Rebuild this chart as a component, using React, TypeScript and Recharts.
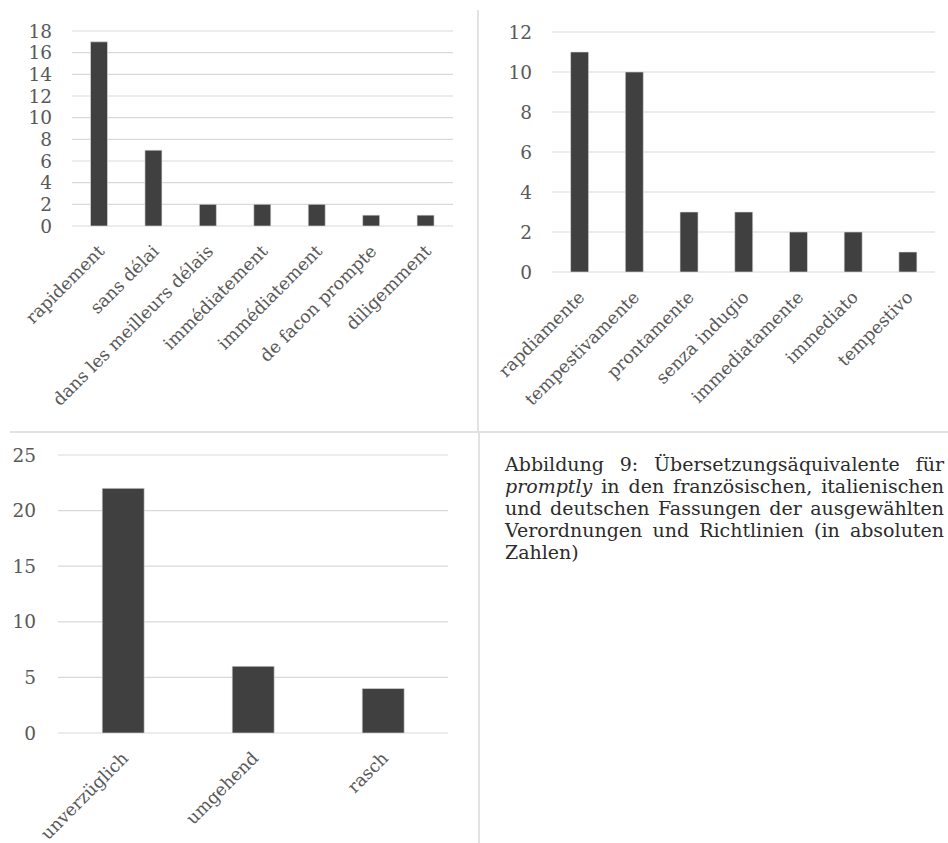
import { Bar, BarChart, CartesianGrid, XAxis, YAxis } from "recharts"

const FR_CATEGORIES = [
  "rapidement",
  "sans délai",
  "dans les meilleurs délais",
  "immédiatement",
  "immédiatement",
  "de facon prompte",
  "diligemment",
]
const FR_VALUES = [17, 7, 2, 2, 2, 1, 1]
const FR_TICKS = [0, 2, 4, 6, 8, 10, 12, 14, 16, 18]

const IT_CATEGORIES = [
  "rapdiamente",
  "tempestivamente",
  "prontamente",
  "senza indugio",
  "immediatamente",
  "immediato",
  "tempestivo",
]
const IT_VALUES = [11, 10, 3, 3, 2, 2, 1]
const IT_TICKS = [0, 2, 4, 6, 8, 10, 12]

const DE_CATEGORIES = ["unverzüglich", "umgehend", "rasch"]
const DE_VALUES = [22, 6, 4]
const DE_TICKS = [0, 5, 10, 15, 20, 25]

const CAPTION_LINES = [
  "Abbildung 9: Übersetzungsäquivalente für",
  "in den französischen, italienischen",
  "und deutschen Fassungen der ausgewählten",
  "Verordnungen und Richtlinien (in absoluten",
  "Zahlen)",
]

const FONT = "'DejaVu Serif', serif"
const BAR = "#404040"
const GRID = "#d9d9d9"
const TEXT = "#595959"

function toRows(cats: string[], vals: number[]) {
  return cats.map((c, i) => ({ idx: i, label: c, value: vals[i] }))
}

function AngledTick(props: any) {
  const { x, y, payload, labels } = props
  return (
    <g transform={`translate(${x + 2},${y + 14})`}>
      <text
        textAnchor="end"
        transform="rotate(-45)"
        fill={TEXT}
        fontFamily={FONT}
        fontSize={17.5}
        dy="0.35em"
      >
        {labels[payload.value]}
      </text>
    </g>
  )
}

type PanelProps = {
  cats: string[]
  vals: number[]
  ticks: number[]
  width: number
  height: number
  margin: { top: number; right: number; left: number; bottom: number }
  yWidth: number
  xHeight: number
  tickMargin: number
}

function Panel({ cats, vals, ticks, width, height, margin, yWidth, xHeight, tickMargin }: PanelProps) {
  const data = toRows(cats, vals)
  return (
    <BarChart width={width} height={height} data={data} margin={margin} barCategoryGap="34%">
      <CartesianGrid vertical={false} stroke={GRID} strokeWidth={1.2} />
      <XAxis
        dataKey="idx"
        interval={0}
        axisLine={false}
        tickLine={false}
        height={xHeight}
        tick={<AngledTick labels={cats} />}
      />
      <YAxis
        width={yWidth}
        domain={[0, ticks[ticks.length - 1]]}
        ticks={ticks}
        interval={0}
        axisLine={false}
        tickLine={false}
        tickMargin={tickMargin}
        tick={{ fill: TEXT, fontFamily: FONT, fontSize: 18.5 }}
      />
      <Bar dataKey="value" fill={BAR} stroke="#e0e0e0" strokeWidth={0.6} isAnimationActive={false} />
    </BarChart>
  )
}

export default function App() {
  return (
    <div
      style={{
        position: "absolute",
        left: 0,
        top: 0,
        width: 948,
        height: 843,
        background: "#fff",
        overflow: "hidden",
      }}
    >
      <div style={{ position: "absolute", left: 0, top: 0 }}>
        <Panel
          cats={FR_CATEGORIES}
          vals={FR_VALUES}
          ticks={FR_TICKS}
          width={475}
          height={430}
          margin={{ top: 31, right: 22, left: 0, bottom: 14 }}
          yWidth={72}
          xHeight={190}
          tickMargin={14}
        />
      </div>
      <div style={{ position: "absolute", left: 480, top: 0 }}>
        <Panel
          cats={IT_CATEGORIES}
          vals={IT_VALUES}
          ticks={IT_TICKS}
          width={468}
          height={430}
          margin={{ top: 32, right: 13, left: 0, bottom: 10 }}
          yWidth={72}
          xHeight={148}
          tickMargin={14}
        />
      </div>
      <div style={{ position: "absolute", left: 0, top: 432 }}>
        <Panel
          cats={DE_CATEGORIES}
          vals={DE_VALUES}
          ticks={DE_TICKS}
          width={478}
          height={411}
          margin={{ top: 23, right: 30, left: 0, bottom: 10 }}
          yWidth={58}
          xHeight={100}
          tickMargin={16}
        />
      </div>

      {/* panel borders */}
      <div style={{ position: "absolute", left: 477, top: 10, width: 1.5, height: 422, background: "#e2e2e2" }} />
      <div style={{ position: "absolute", left: 10, top: 431, width: 938, height: 1.5, background: "#e2e2e2" }} />
      <div style={{ position: "absolute", left: 478, top: 432, width: 1.5, height: 411, background: "#e2e2e2" }} />

      <div
        style={{
          position: "absolute",
          left: 505,
          top: 453,
          width: 439,
          fontFamily: FONT,
          fontSize: 19,
          lineHeight: "22px",
          color: "#2b2b2b",
        }}
      >
        {CAPTION_LINES.map((line, i) => (
          <div
            key={i}
            style={{
              whiteSpace: "nowrap",
              textAlign: i < 4 ? "justify" : "left",
              textAlignLast: i < 4 ? "justify" : "left",
            }}
          >
            {i === 1 ? (
              <>
                <i>promptly</i> {line}
              </>
            ) : (
              line
            )}
          </div>
        ))}
      </div>
    </div>
  )
}
